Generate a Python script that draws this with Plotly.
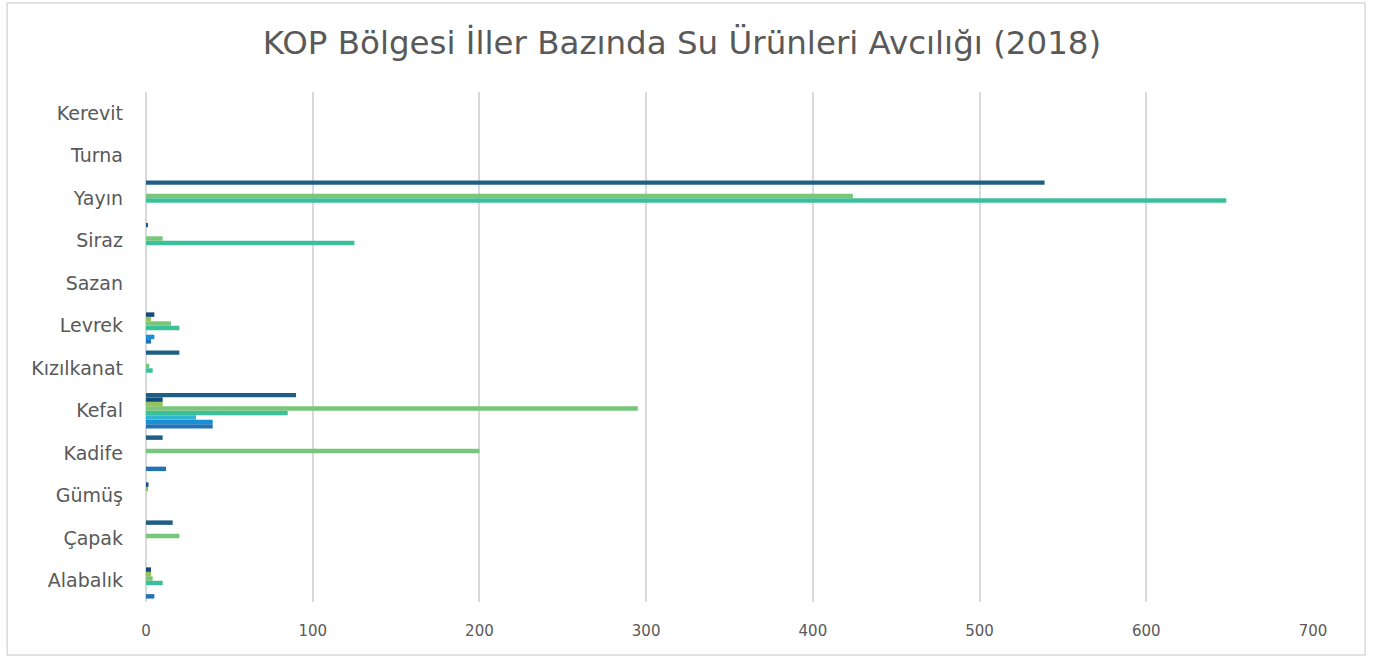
import plotly.graph_objects as go

categories = ["Alabalık", "Çapak", "Gümüş", "Kadife", "Kefal", "Kızılkanat",
              "Levrek", "Sazan", "Siraz", "Yayın", "Turna", "Kerevit"]

series_names = ["Seri 1", "Seri 2", "Seri 3", "Seri 4", "Seri 5", "Seri 6", "Seri 7", "Seri 8"]

s1 = [5, None, None, 12, 40, None, 3, None, None, None, None, None]
s2 = [None, None, None, None, 40, None, 5, None, None, None, None, None]
s3 = [None, None, None, None, 30, None, None, None, None, None, None, None]
s4 = [10, None, None, None, 85, 4, 20, None, 125, 648, None, None]
s5 = [4, 20, None, 200, 295, 2, 15, None, 10, 424, None, None]
s6 = [3, None, 1, None, 10, None, 3, None, None, None, None, None]
s7 = [3, None, 1.5, None, 10, None, 5, None, None, None, None, None]
s8 = [None, 16, None, 10, 90, 20, None, None, 1, 539, None, None]

series_values = [s1, s2, s3, s4, s5, s6, s7, s8]
colors = ["#2471b5", "#1a8fd6", "#31b5d0", "#3cbf9b", "#78c679", "#93c35a", "#134b7a", "#1f5f86"]

x_ticks = [0, 100, 200, 300, 400, 500, 600, 700]

FONT = "DejaVu Sans"

fig = go.Figure()
for name, vals, col in zip(series_names, series_values, colors):
    fig.add_trace(go.Bar(
        y=categories, x=vals, name=name, orientation="h",
        marker=dict(color=col, line=dict(width=0)),
    ))

fig.update_layout(
    width=1376, height=661,
    margin=dict(l=146, r=63, t=92, b=59),
    paper_bgcolor="white", plot_bgcolor="white",
    barmode="group", bargap=0.16, bargroupgap=0,
    showlegend=False,
    font=dict(family=FONT, color="#595959"),
    title=dict(text="KOP Bölgesi İller Bazında Su Ürünleri Avcılığı (2018)",
               x=0.4956, xref="container", xanchor="center",
               y=0.936, yref="container", yanchor="middle",
               font=dict(size=32.5, color="#595959", family=FONT)),
    xaxis=dict(range=[0, 700], tickvals=x_ticks, showgrid=True,
               gridcolor="#d9d9d9", gridwidth=2, zeroline=True,
               zerolinecolor="#d9d9d9", zerolinewidth=2,
               showline=False, ticks="", ticklabelstandoff=18,
               tickfont=dict(size=15, color="#595959", family=FONT)),
    yaxis=dict(type="category", categoryorder="array", categoryarray=categories,
               range=[-0.5, 11.5], showgrid=False, zeroline=False,
               showline=False, ticks="", ticklabelstandoff=22,
               tickfont=dict(size=19, color="#595959", family=FONT)),
)

fig.add_shape(type="rect", xref="paper", yref="paper",
              x0=-0.119, x1=1.0446, y0=-0.1039, y1=1.1745,
              line=dict(color="#d9d9d9", width=1.5), layer="below")

fig.write_html("out.html", config={"displayModeBar": False},
               post_script="document.body.style.margin='0';")
